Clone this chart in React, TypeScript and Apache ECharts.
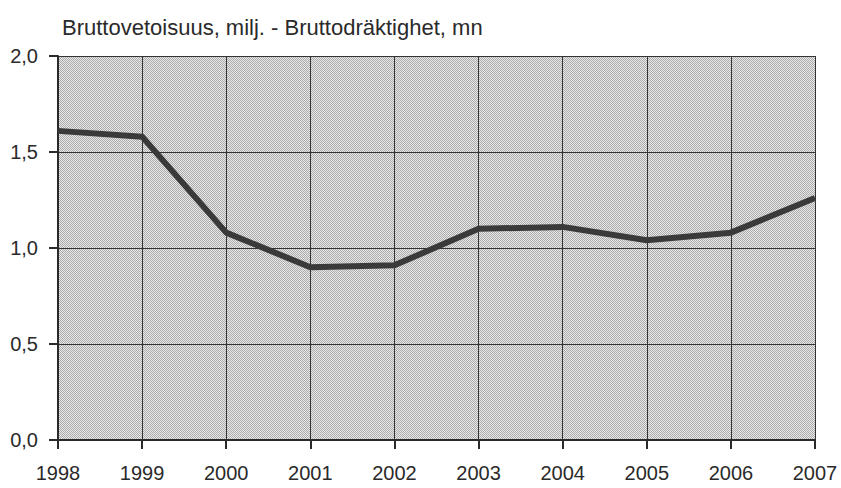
import React, { useEffect, useRef } from "react";
import * as echarts from "echarts";

const years = ["1998", "1999", "2000", "2001", "2002", "2003", "2004", "2005", "2006", "2007"];
const tonnage = [1.61, 1.58, 1.08, 0.9, 0.91, 1.1, 1.11, 1.04, 1.08, 1.26];
const titleText = "Bruttovetoisuus, milj. - Bruttodräktighet, mn";

function makePattern(): string {
  const c = document.createElement("canvas");
  c.width = 2;
  c.height = 2;
  const ctx = c.getContext("2d")!;
  ctx.fillStyle = "#e8e8e8";
  ctx.fillRect(0, 0, 2, 2);
  ctx.fillStyle = "#ababab";
  ctx.fillRect(0, 0, 1, 1);
  ctx.fillRect(1, 1, 1, 1);
  return c.toDataURL();
}

export default function App() {
  const ref = useRef<HTMLDivElement>(null);
  useEffect(() => {
    const chart = echarts.init(ref.current!, undefined, { renderer: "svg" });
    const font = "'Liberation Sans', Arial, sans-serif";
    chart.setOption({
      animation: false,
      backgroundColor: "#ffffff",
      title: {
        text: titleText,
        left: 57,
        top: 11,
        textStyle: { fontFamily: font, fontSize: 22, fontWeight: "normal", color: "#2a2a2a" },
      },
      grid: {
        left: 58,
        right: 26,
        top: 56,
        bottom: 48,
        show: true,
        borderWidth: 0,
        backgroundColor: { image: makePattern(), repeat: "repeat" } as any,
      },
      xAxis: {
        type: "category",
        data: years,
        boundaryGap: false,
        axisLine: { show: true, lineStyle: { color: "#2a2a2a", width: 2 } },
        axisTick: { show: true, length: 9, lineStyle: { color: "#2a2a2a", width: 2 } },
        axisLabel: { fontFamily: font, fontSize: 20, color: "#2a2a2a", margin: 23 },
        splitLine: { show: true, lineStyle: { color: "#333333", width: 1 } },
      },
      yAxis: {
        type: "value",
        min: 0,
        max: 2,
        interval: 0.5,
        axisLine: { show: true, lineStyle: { color: "#2a2a2a", width: 2 } },
        axisTick: { show: true, length: 9, lineStyle: { color: "#2a2a2a", width: 2 } },
        axisLabel: {
          fontFamily: font,
          fontSize: 20,
          color: "#2a2a2a",
          margin: 20,
          formatter: (v: number) => v.toFixed(1).replace(".", ","),
        },
        splitLine: { show: true, lineStyle: { color: "#333333", width: 1 } },
      },
      series: [
        {
          type: "line",
          data: tonnage,
          symbol: "none",
          lineStyle: { color: "#3a3a3a", width: 6, join: "round" },
          smooth: false,
        },
      ],
    });
    return () => chart.dispose();
  }, []);
  return (
    <div
      ref={ref}
      style={{ position: "absolute", left: 0, top: 0, width: 841, height: 488 }}
    />
  );
}
